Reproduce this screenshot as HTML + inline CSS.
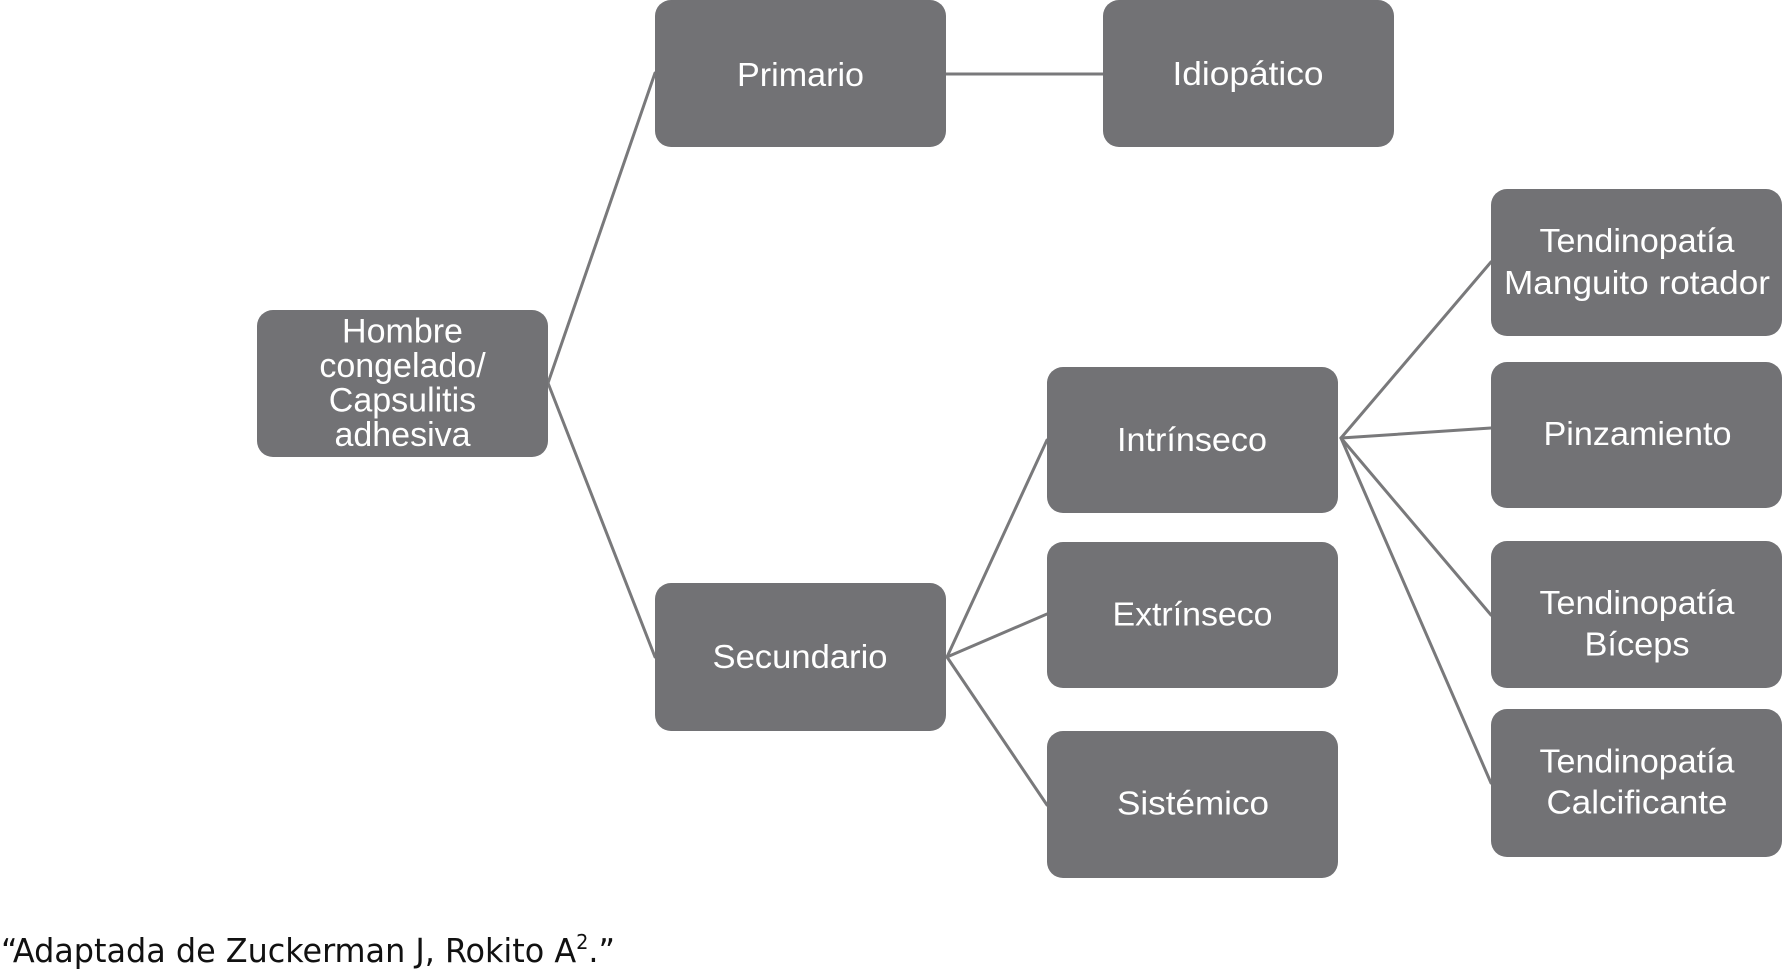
<!DOCTYPE html>
<html>
<head>
<meta charset="utf-8">
<style>
  html, body { margin: 0; padding: 0; background: #ffffff; }
  body { width: 1783px; height: 971px; overflow: hidden; }
  svg { display: block; }
  .box { fill: #727275; }
  .ln { stroke: #79797b; stroke-width: 3; fill: none; stroke-linecap: round; }
  .t { font-family: "Liberation Sans", "Helvetica Neue", Arial, sans-serif; font-size: 33px; fill: #ffffff; text-anchor: middle; }
  .h { font-family: "Liberation Sans", "Helvetica Neue", Arial, sans-serif; font-size: 34px; fill: #ffffff; text-anchor: middle; }
  .cap { font-family: "DejaVu Sans Condensed", "DejaVu Sans", "Liberation Sans", sans-serif; font-size: 33px; fill: #111111; }
</style>
</head>
<body>
<svg width="1783" height="971" viewBox="0 0 1783 971" xmlns="http://www.w3.org/2000/svg">
  <!-- connectors -->
  <line class="ln" x1="548" y1="383" x2="655" y2="73"/>
  <line class="ln" x1="548" y1="383" x2="655" y2="657"/>
  <line class="ln" x1="946" y1="74" x2="1103" y2="74"/>
  <line class="ln" x1="947" y1="657" x2="1047" y2="440"/>
  <line class="ln" x1="947" y1="657" x2="1047" y2="614"/>
  <line class="ln" x1="947" y1="657" x2="1047" y2="805"/>
  <line class="ln" x1="1341" y1="438" x2="1491" y2="262"/>
  <line class="ln" x1="1341" y1="438" x2="1491" y2="428"/>
  <line class="ln" x1="1341" y1="438" x2="1491" y2="615"/>
  <line class="ln" x1="1341" y1="438" x2="1491" y2="783"/>

  <!-- boxes -->
  <rect class="box" x="257" y="310" width="291" height="147" rx="16" ry="16"/>
  <rect class="box" x="655" y="0" width="291" height="147" rx="16" ry="16"/>
  <rect class="box" x="1103" y="0" width="291" height="147" rx="16" ry="16"/>
  <rect class="box" x="655" y="583" width="291" height="148" rx="16" ry="16"/>
  <rect class="box" x="1047" y="367" width="291" height="146" rx="16" ry="16"/>
  <rect class="box" x="1047" y="542" width="291" height="146" rx="16" ry="16"/>
  <rect class="box" x="1047" y="731" width="291" height="147" rx="16" ry="16"/>
  <rect class="box" x="1491" y="189" width="291" height="147" rx="16" ry="16"/>
  <rect class="box" x="1491" y="362" width="291" height="146" rx="16" ry="16"/>
  <rect class="box" x="1491" y="541" width="291" height="147" rx="16" ry="16"/>
  <rect class="box" x="1491" y="709" width="291" height="148" rx="16" ry="16"/>

  <!-- labels -->
  <text class="h" x="402.5" y="342.5">Hombre</text>
  <text class="h" x="402.5" y="377">congelado/</text>
  <text class="h" x="402.5" y="411.5">Capsulitis</text>
  <text class="h" x="402.5" y="446">adhesiva</text>

  <text class="t" x="800.5" y="86" textLength="127" lengthAdjust="spacingAndGlyphs">Primario</text>
  <text class="t" x="1248" y="85" textLength="151" lengthAdjust="spacingAndGlyphs">Idiopático</text>
  <text class="t" x="800" y="668" textLength="175" lengthAdjust="spacingAndGlyphs">Secundario</text>

  <text class="t" x="1192" y="451" textLength="150" lengthAdjust="spacingAndGlyphs">Intrínseco</text>
  <text class="t" x="1192.5" y="625.5" textLength="160" lengthAdjust="spacingAndGlyphs">Extrínseco</text>
  <text class="t" x="1193" y="814.5" textLength="152" lengthAdjust="spacingAndGlyphs">Sistémico</text>

  <text class="t" x="1637" y="252" textLength="195" lengthAdjust="spacingAndGlyphs">Tendinopatía</text>
  <text class="t" x="1637" y="294" textLength="266" lengthAdjust="spacingAndGlyphs">Manguito rotador</text>

  <text class="t" x="1637.5" y="445" textLength="188" lengthAdjust="spacingAndGlyphs">Pinzamiento</text>

  <text class="t" x="1637" y="614" textLength="195" lengthAdjust="spacingAndGlyphs">Tendinopatía</text>
  <text class="t" x="1637" y="655.5" textLength="105" lengthAdjust="spacingAndGlyphs">Bíceps</text>

  <text class="t" x="1637" y="772.7" textLength="195" lengthAdjust="spacingAndGlyphs">Tendinopatía</text>
  <text class="t" x="1637" y="813.5" textLength="181" lengthAdjust="spacingAndGlyphs">Calcificante</text>

  <!-- caption -->
  <text class="cap" x="1" y="962" textLength="614" lengthAdjust="spacingAndGlyphs">“Adaptada de Zuckerman J, Rokito A<tspan font-size="20" dy="-13">2</tspan><tspan dy="13">.”</tspan></text>
</svg>
</body>
</html>
